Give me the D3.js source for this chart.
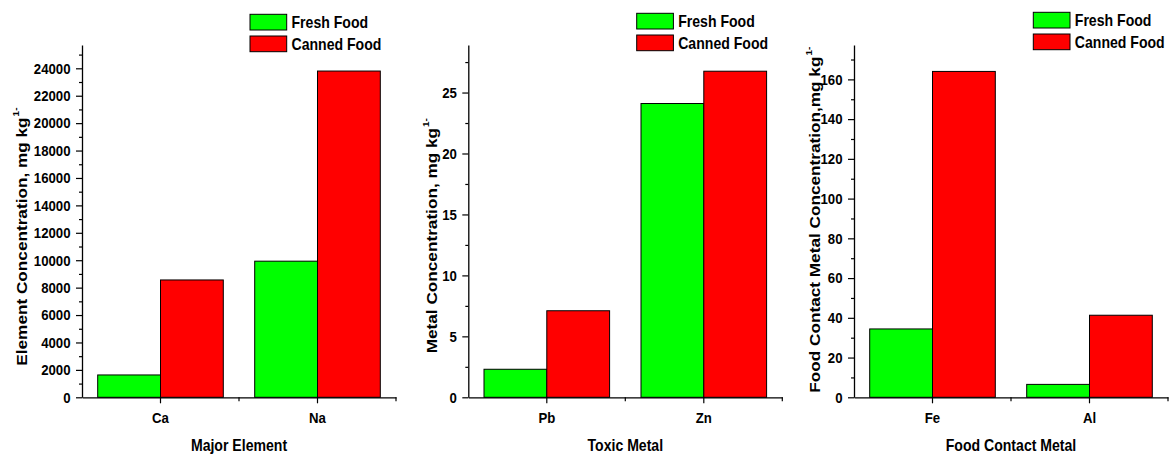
<!DOCTYPE html>
<html>
<head>
<meta charset="utf-8">
<script src="https://cdn.jsdelivr.net/npm/d3@7"></script>
<style>
  html, body { margin: 0; padding: 0; background: #fff; }
  svg { display: block; }
  text { font-family: "Liberation Sans", Arial, sans-serif; font-weight: bold; fill: #000; }
</style>
</head>
<body>
<svg id="chart" width="1174" height="455"></svg>
<script>
// ---- data ----
const seriesNames = ["Fresh Food", "Canned Food"];
const seriesColors = ["#00ff00", "#ff0000"];

const categories1 = ["Ca", "Na"];
const fresh1 = [1630, 9930];
const canned1 = [8560, 23800];

const categories2 = ["Pb", "Zn"];
const fresh2 = [2.3, 24.1];
const canned2 = [7.1, 26.75];

const categories3 = ["Fe", "Al"];
const fresh3 = [34.4, 6.5];
const canned3 = [164, 41.3];

const yMajor1 = [0, 2000, 4000, 6000, 8000, 10000, 12000, 14000, 16000, 18000, 20000, 22000, 24000];
const yMinor1 = [1000, 3000, 5000, 7000, 9000, 11000, 13000, 15000, 17000, 19000, 21000, 23000, 25000];
const yMajor2 = [0, 5, 10, 15, 20, 25];
const yMinor2 = [2.5, 7.5, 12.5, 17.5, 22.5, 27.5];
const yMajor3 = [0, 20, 40, 60, 80, 100, 120, 140, 160];
const yMinor3 = [10, 30, 50, 70, 90, 110, 130, 150, 170];

const yMax = [25700, 28.9, 177.3];
const xTitles = ["Major Element", "Toxic Metal", "Food Contact Metal"];
const yTitles = ["Element Concentration, mg kg", "Metal Concentration, mg kg", "Food Contact Metal Concentration,mg kg"];
const yTitleSup = "1-";

// ---- layout ----
const SX = 0.88;                  // horizontal squeeze of the text in the reference
const plotTop = 45, baseY = 397.3, plotW = 314;
const axisX = [82, 468.3, 854];
const titleBaseX = [26.5, 436.5, 819.5];
const titleStartY = [365.7, 353.3, 392.7];
const legendX = [250, 636.7, 1033.3];
const legendY = [14.3, 13.3, 12.3];

const panels = [
  { cats: categories1, vals: [fresh1, canned1], major: yMajor1, minor: yMinor1 },
  { cats: categories2, vals: [fresh2, canned2], major: yMajor2, minor: yMinor2 },
  { cats: categories3, vals: [fresh3, canned3], major: yMajor3, minor: yMinor3 }
];

const svg = d3.select("#chart");

panels.forEach((p, i) => {
  const x0 = axisX[i];
  const g = svg.append("g");

  const x = d3.scaleBand().domain(p.cats).range([x0, x0 + plotW]).paddingInner(0).paddingOuter(0);
  const xs = d3.scaleBand().domain(seriesNames).range([x.bandwidth() * 0.1, x.bandwidth() * 0.9]);
  const y = d3.scaleLinear().domain([0, yMax[i]]).range([baseY, plotTop]);

  // bars
  const rows = p.cats.map((c, ci) => ({ cat: c, vals: seriesNames.map((s, si) => ({ s, si, v: p.vals[si][ci] })) }));
  g.selectAll("g.grp").data(rows).join("g")
    .attr("class", "grp")
    .attr("transform", d => `translate(${x(d.cat)},0)`)
    .selectAll("rect").data(d => d.vals).join("rect")
    .attr("x", d => xs(d.s))
    .attr("width", xs.bandwidth())
    .attr("y", d => y(d.v))
    .attr("height", d => baseY - y(d.v))
    .attr("fill", d => seriesColors[d.si])
    .attr("stroke", "#000")
    .attr("stroke-width", 1);

  // y axis
  const yAxis = g.append("g").attr("transform", `translate(${x0},0)`)
    .call(d3.axisLeft(y).tickValues(p.major).tickFormat(d3.format("d")).tickSize(6).tickSizeOuter(0).tickPadding(5));
  yAxis.select(".domain").attr("stroke-width", 1.3);
  yAxis.selectAll(".tick line").attr("stroke-width", 1.2);
  yAxis.selectAll(".tick text")
    .attr("font-size", 15).attr("font-family", "Liberation Sans, Arial, sans-serif").attr("font-weight", "bold")
    .attr("transform", `scale(${SX},1)`)
    .attr("x", -11.5 / SX);
  const yMin = g.append("g").attr("transform", `translate(${x0},0)`)
    .call(d3.axisLeft(y).tickValues(p.minor).tickFormat("").tickSize(3).tickSizeOuter(0));
  yMin.select(".domain").remove();
  yMin.selectAll(".tick line").attr("stroke-width", 1.2);

  // x axis
  const xAxis = g.append("g").attr("transform", `translate(0,${baseY})`)
    .call(d3.axisBottom(x).tickSize(6).tickSizeOuter(0).tickPadding(6));
  xAxis.select(".domain").attr("stroke-width", 1.3);
  xAxis.selectAll(".tick line").attr("stroke-width", 1.2);
  xAxis.selectAll(".tick text")
    .attr("font-size", 15).attr("font-family", "Liberation Sans, Arial, sans-serif").attr("font-weight", "bold")
    .attr("transform", `scale(${SX},1)`)
    .attr("dy", "0.9em");
  // minor ticks at band boundaries
  g.append("g").selectAll("line").data(p.cats.map(c => x(c) + x.bandwidth())).join("line")
    .attr("x1", d => d).attr("x2", d => d)
    .attr("y1", baseY).attr("y2", baseY + 4)
    .attr("stroke", "#000").attr("stroke-width", 1.2);

  // x title
  g.append("text")
    .attr("transform", `translate(${x0 + plotW / 2},450.5) scale(${SX},1)`)
    .attr("text-anchor", "middle")
    .attr("font-size", 16)
    .text(xTitles[i]);

  // y title
  const yt = g.append("text")
    .attr("transform", `translate(${titleBaseX[i]},${titleStartY[i]}) scale(${SX},1) rotate(-90)`)
    .attr("text-anchor", "start")
    .attr("font-size", 17.2);
  yt.append("tspan").text(yTitles[i]);
  yt.append("tspan").attr("font-size", 10).attr("dy", -9).attr("dx", 1).text(yTitleSup);

  // legend
  const lg = g.append("g").attr("transform", `translate(${legendX[i]},${legendY[i]})`);
  seriesNames.forEach((s, si) => {
    lg.append("rect")
      .attr("x", 0).attr("y", si * 21.7)
      .attr("width", 36.7).attr("height", 15.7)
      .attr("fill", seriesColors[si]).attr("stroke", "#000").attr("stroke-width", 1);
    lg.append("text")
      .attr("transform", `translate(41.5,${si * 21.7 + 14}) scale(${SX},1)`)
      .attr("font-size", 16)
      .text(s);
  });
});
</script>
</body>
</html>
